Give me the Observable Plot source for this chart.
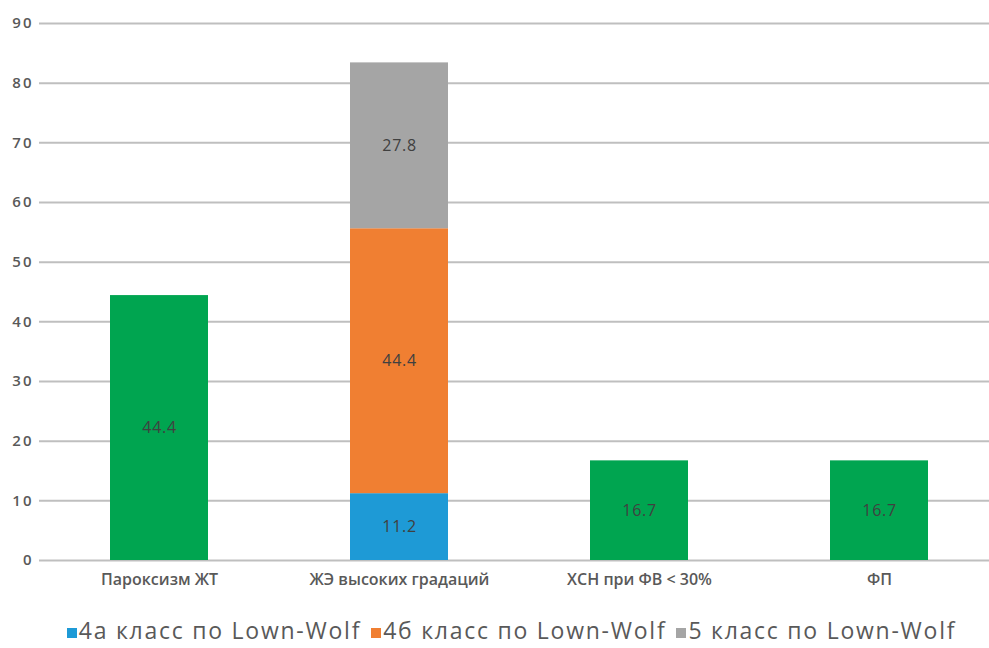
<!DOCTYPE html>
<html>
<head>
<meta charset="utf-8">
<script src="https://cdn.jsdelivr.net/npm/d3@7"></script>
<script src="https://cdn.jsdelivr.net/npm/@observablehq/plot@0.6"></script>
<style>
  html, body { margin: 0; padding: 0; background: #fff; overflow: hidden; }
  #chart { width: 989px; }
  .legend { display: flex; justify-content: center; gap: 10px; font-family: "Open Sans", sans-serif; font-size: 23px; letter-spacing: 1.75px; color: #595959; height: 32px; line-height: 32px; align-items: center; margin-top: 14px; padding-left: 34px; white-space: nowrap; }
  .legend span.item { display: flex; align-items: center; }
  .legend span.sw { display: inline-block; width: 10px; height: 10px; margin-right: 2px; margin-top: 6px; }
  g[aria-label="y-axis tick label"] text { letter-spacing: 2px; }
  g[aria-label="text"] text { letter-spacing: 0.7px; }
</style>
</head>
<body>
<div id="chart"></div>
<script>
const categories = ["Пароксизм ЖТ", "ЖЭ высоких градаций", "ХСН при ФВ < 30%", "ФП"];
const totalValues = [44.4, null, 16.7, 16.7];
const stackCategory = "ЖЭ высоких градаций";
const stackSeries = ["4а класс по Lown-Wolf", "4б класс по Lown-Wolf", "5 класс по Lown-Wolf"];
const stackValues = [11.2, 44.4, 27.8];
const yTicks = [0, 10, 20, 30, 40, 50, 60, 70, 80, 90];
const seriesColors = ["#1E9AD6", "#F07F32", "#A5A5A5"];
const totalColor = "#00A550";

const rows = [];
categories.forEach((c, i) => {
  if (totalValues[i] != null) rows.push({cat: c, series: "Всего", value: totalValues[i]});
});
stackSeries.forEach((s, i) => rows.push({cat: stackCategory, series: s, value: stackValues[i]}));

const colorDomain = ["Всего", ...stackSeries];
const colorRange = [totalColor, ...seriesColors];

const chart = Plot.plot({
  width: 989,
  height: 600,
  marginTop: 23,
  marginBottom: 40,
  marginLeft: 39,
  marginRight: 0,
  style: {fontFamily: "'Open Sans', sans-serif", background: "#fff"},
  x: {domain: categories, range: [39, 1000], paddingInner: 0.59, paddingOuter: 0.295, label: null, tickSize: 0},
  y: {domain: [0, 90], ticks: yTicks, label: null, tickSize: 0},
  color: {domain: colorDomain, range: colorRange},
  marks: [
    Plot.ruleY(yTicks, {stroke: "#BFBFBF", strokeWidth: 2}),
    Plot.barY(rows, Plot.stackY({x: "cat", y: "value", fill: "series", order: colorDomain})),
    Plot.text(rows, Plot.stackY({x: "cat", y: "value", z: "series", order: colorDomain, text: d => d.value.toFixed(1), fill: "#404040", fontSize: 16})),
    Plot.axisY({ticks: yTicks, tickSize: 0, tickPadding: 6, fontSize: 15, fontWeight: 600, fill: "#595959", label: null}),
    Plot.axisX({tickSize: 0, tickPadding: 13, fontSize: 16, fontWeight: 600, fill: "#595959", label: null})
  ]
});
document.getElementById("chart").appendChild(chart);

const legend = document.createElement("div");
legend.className = "legend";
stackSeries.forEach((s, i) => {
  const item = document.createElement("span");
  item.className = "item";
  const sw = document.createElement("span");
  sw.className = "sw";
  sw.style.background = seriesColors[i];
  item.appendChild(sw);
  item.appendChild(document.createTextNode(s));
  legend.appendChild(item);
});
document.getElementById("chart").appendChild(legend);
</script>
</body>
</html>
